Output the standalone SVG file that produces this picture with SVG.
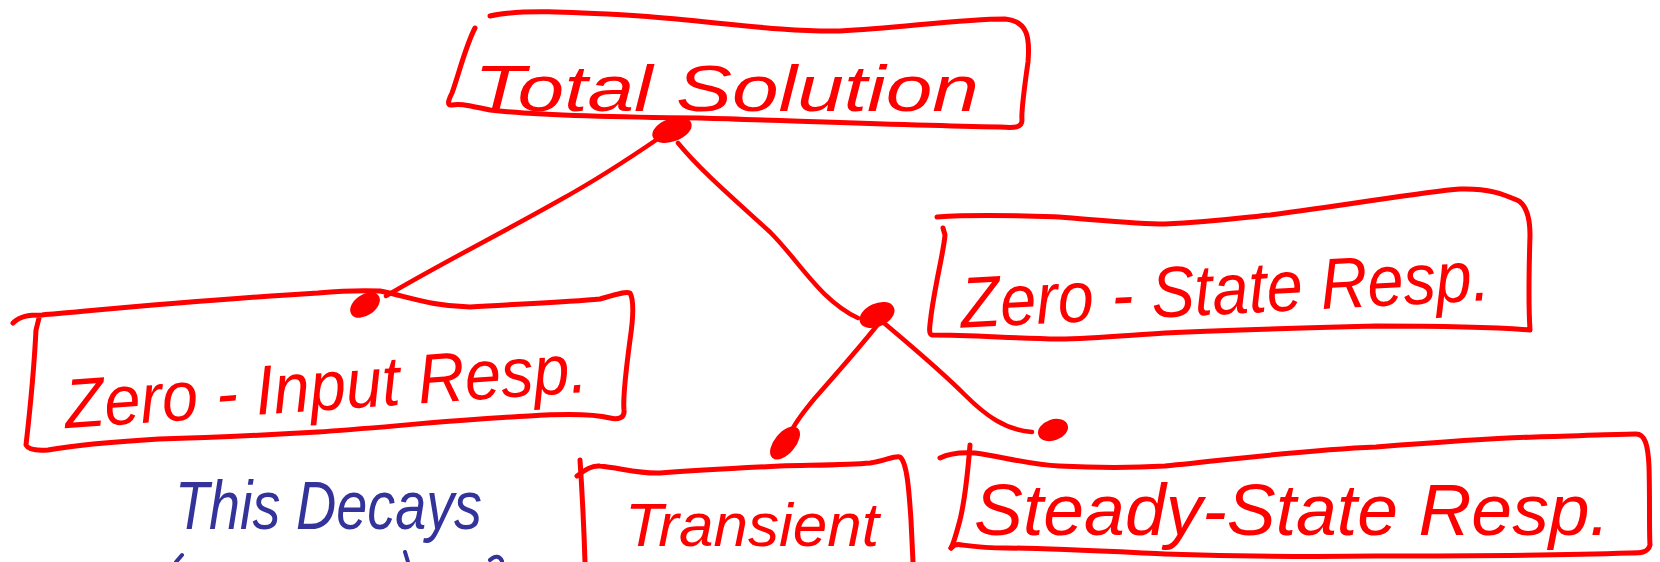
<svg xmlns="http://www.w3.org/2000/svg" width="1660" height="562" viewBox="0 0 1660 562">
<style>
.box{fill:none;stroke:#ff0000;stroke-width:5;stroke-linecap:round;stroke-linejoin:round}
.con{fill:none;stroke:#ff0000;stroke-width:4.5;stroke-linecap:round;stroke-linejoin:round}
.dot{fill:#ff0000;stroke:#ff0000;stroke-width:3}
.lbl{font-family:"Liberation Sans",Arial,sans-serif;font-style:italic;fill:#ff0000}
.note{font-family:"Liberation Sans",Arial,sans-serif;font-style:italic;fill:#333399}
.noteStroke{fill:none;stroke:#333399;stroke-width:4;stroke-linecap:round}
</style>
<rect width="1660" height="562" fill="#ffffff"/>
<g id="connectors">
<path class="con" d="M662,136 C630,158 600,178 560,200 C500,234 440,264 386,296"/>
<path class="con" d="M678,143 C700,170 735,200 770,232 C800,262 820,300 858,318"/>
<path class="con" d="M879,323 C860,347 838,372 815,398 C805,410 797,420 792,430"/>
<path class="con" d="M884,323 C910,345 940,370 965,395 C985,415 1005,430 1032,432"/>
<ellipse class="dot" cx="672" cy="130" rx="19" ry="10" transform="rotate(-20 672 130)"/>
<ellipse class="dot" cx="365" cy="305" rx="15" ry="9" transform="rotate(-35 365 305)"/>
<ellipse class="dot" cx="877" cy="315" rx="17" ry="10" transform="rotate(-25 877 315)"/>
<ellipse class="dot" cx="785" cy="443" rx="18" ry="9" transform="rotate(-50 785 443)"/>
<ellipse class="dot" cx="1053" cy="430" rx="14" ry="9" transform="rotate(-20 1053 430)"/>
</g>
<g id="total-solution">
<path class="box" d="M490,16 C520,9 570,12 640,16 C720,22 780,32 840,31 C900,28 960,19 1005,19 C1028,21 1030,38 1028,62 C1024,90 1021,112 1022,120 C1022,128 1015,128 1000,127 C900,125 800,121 700,118 C600,117 525,114 490,110 C470,106 460,103 452,105 C446,106 449,99 452,93 C460,70 466,45 475,28"/>
<text class="lbl" x="474" y="111" font-size="64" textLength="505" lengthAdjust="spacingAndGlyphs">Total Solution</text>
</g>
<g id="zero-input">
<path class="box" d="M13,323 C20,316 28,315 42,315 C100,310 200,300 318,293 C340,291 360,290 380,291 C410,297 430,306 470,307 C520,304 570,302 600,299 C615,295 625,291 630,293 C634,300 633,320 630,340 C626,370 623,400 624,410 C625,418 618,420 610,418 C590,413 560,414 529,416 C450,420 380,428 318,432 C250,436 200,438 159,439 C110,442 70,446 48,450 C36,451 28,449 26,445 C30,410 34,370 36,330 L39,318"/>
<text class="lbl" x="64" y="410" font-size="70" textLength="524" lengthAdjust="spacingAndGlyphs" transform="rotate(-4 326 390)">Zero - Input Resp.</text>
</g>
<g id="zero-state">
<path class="box" d="M937,217 C980,214 1030,216 1059,217 C1110,221 1140,224 1165,224 C1210,222 1240,218 1270,215 C1350,205 1420,192 1460,189 C1490,188 1505,195 1519,201 C1527,207 1530,218 1530,235 C1529,270 1528,300 1530,330 C1480,326 1420,326 1376,326 C1300,328 1230,330 1165,333 C1120,336 1090,339 1059,339 C1010,338 970,335 932,335 C928,334 930,325 931,316 C935,285 944,250 945,235 L943,228"/>
<text class="lbl" x="960" y="314" font-size="72" textLength="530" lengthAdjust="spacingAndGlyphs" transform="rotate(-3 1225 290)">Zero - State Resp.</text>
</g>
<g id="transient">
<path class="box" d="M577,476 C585,470 592,465 600,466 C620,468 640,474 660,473 C700,470 740,468 780,466 C820,465 850,465 870,463 C885,461 895,455 900,457 C907,462 909,490 911,520 L913,562"/>
<path class="box" d="M580,460 C582,490 584,530 585,562"/>
<text class="lbl" x="625" y="546" font-size="62" textLength="254" lengthAdjust="spacingAndGlyphs">Transient</text>
</g>
<g id="steady-state">
<path class="box" d="M940,458 C950,453 960,452 975,453 C1000,456 1030,465 1059,466 C1100,468 1130,468 1165,466 C1230,460 1300,450 1376,447 C1440,442 1500,438 1535,437 C1580,436 1620,434 1636,434 C1645,434 1648,445 1649,466 C1650,500 1649,530 1650,545 C1648,553 1640,553 1630,553 C1570,555 1480,556 1376,556 C1300,557 1230,556 1165,554 C1100,551 1040,548 1006,548 C985,548 970,546 962,545 C955,543 952,547 951,548"/>
<path class="box" d="M970,445 C968,470 966,495 960,520 C956,535 953,545 951,548"/>
<text class="lbl" x="974" y="535" font-size="72" textLength="636" lengthAdjust="spacingAndGlyphs">Steady-State Resp.</text>
</g>
<g id="note">
<text class="note" x="175" y="529" font-size="68" textLength="307" lengthAdjust="spacingAndGlyphs">This Decays</text>
<path class="noteStroke" d="M182,555 L176,562"/>
<path class="noteStroke" d="M405,552 L408,562"/>
<path class="noteStroke" d="M490,560 C495,555 500,556 502,561"/>
</g>
</svg>
